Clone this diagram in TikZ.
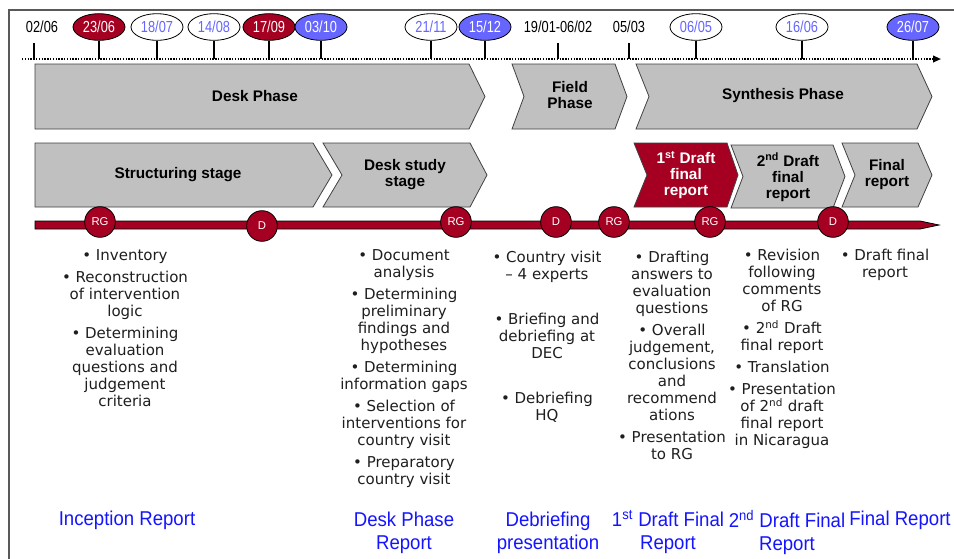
\documentclass[tikz,border=0pt]{standalone}
\usepackage{fontspec}
\setmainfont{DejaVu Sans}
\newfontfamily\arialf{Liberation Sans}
\newfontfamily\narrowf[FakeStretch=0.8]{Liberation Sans}
\newfontfamily\bluef[FakeStretch=0.93]{Liberation Sans}
\usetikzlibrary{arrows.meta,shapes.geometric}
\definecolor{dred}{RGB}{165,0,33}
\definecolor{lblue}{RGB}{102,102,255}
\definecolor{boxgray}{RGB}{192,192,192}
\definecolor{repblue}{RGB}{20,20,255}
\definecolor{bultext}{RGB}{30,30,30}
\newcommand\chevpath[7]{%
  \draw[#1] (#2,#4) -- ({#3-#7},#4) -- (#3,{(#4+#5)/2}) -- ({#3-#7},#5) -- (#2,#5) -- ({#2+#6},{(#4+#5)/2}) -- cycle;}
\tikzset{
  frame/.style={draw=black!65,line width=1.1pt},
  dotline/.style={line width=1.3pt,dash pattern=on 1.1pt off 1pt,-{Triangle[length=6pt,width=5pt]}},
  tick/.style={line width=1.6pt},
  datebase/.style={ellipse,draw=black,line width=0.6pt,minimum width=39pt,minimum height=20pt,inner sep=0pt,font=\narrowf\fontsize{12}{13}\selectfont},
  datered/.style={datebase,fill=dred,text=white},
  dateblue/.style={datebase,fill=lblue,text=white},
  datewhite/.style={datebase,fill=white,text=lblue},
  dateplain/.style={rectangle,minimum height=20pt,inner sep=0pt,text=black,font=\narrowf\fontsize{12}{13}\selectfont},
  chev/.style={fill=boxgray,draw=black!75,line width=0.6pt,line join=miter},
  chevred/.style={fill=dred,draw=black!75,line width=0.6pt,line join=miter},
  head/.style={align=center,inner sep=0pt,text=black,font=\arialf\bfseries\fontsize{11.5}{12}\selectfont},
  bar/.style={fill=dred,draw=black,line width=0.6pt},
  milestone/.style={circle,fill=dred,draw=black,line width=0.6pt,minimum size=23pt,inner sep=0pt,text=white,font=\arialf\fontsize{8.5}{9}\selectfont},
  bullets/.style={align=center,anchor=north,inner sep=0pt,text=bultext,font=\fontsize{11.25}{12.75}\selectfont},
  report/.style={align=center,inner sep=0pt,text=repblue,font=\bluef\fontsize{15}{17.25}\selectfont}
}
\begin{document}
\begin{tikzpicture}[x=0.75pt,y=-0.75pt]
\useasboundingbox (0,0) rectangle (954,558);
% frame
\draw[frame] (9,560) -- (9,10) -- (956,10);
% top timeline
\coordinate (tlS) at (22,59);
\coordinate (tlE) at (941,59);
\draw[dotline] (tlS) -- (tlE);
% dates
\node[dateplain] (d0206) at (42,27) {02/06};
\node[datered]   (d2306) at (99,27) {23/06};
\node[datewhite] (d1807) at (157,27) {18/07};
\node[datewhite] (d1408) at (214,27) {14/08};
\node[datered]   (d1709) at (269,27) {17/09};
\node[dateblue]  (d0310) at (321,27) {03/10};
\node[datewhite] (d2111) at (431,27) {21/11};
\node[dateblue]  (d1512) at (485,27) {15/12};
\node[dateplain] (d1901) at (558,27) {19/01-06/02};
\node[dateplain] (d0503) at (629,27) {05/03};
\node[datewhite] (d0605) at (696,27) {06/05};
\node[datewhite] (d1606) at (802,27) {16/06};
\node[dateblue]  (d2607) at (913,27) {26/07};
\draw[tick] ([xshift=-6pt,yshift=-2pt]d0206.south) -- ([xshift=-6pt]d0206.south |- tlS);
\foreach \n in {d2306,d1807,d1408,d1709,d0310,d2111,d1512,d0605,d1606,d2607}
  \draw[tick] (\n.south) -- (\n.south |- tlS);
\draw[tick] ([yshift=-2pt]d1901.south) -- (d1901.south |- tlS);
\draw[tick] ([yshift=-2pt]d0503.south) -- (d0503.south |- tlS);
% phases
\chevpath{chev}{35}{485}{64}{129}{0}{16}
\chevpath{chev}{512}{627}{64}{129}{12}{12}
\chevpath{chev}{636}{932}{64}{129}{13}{15}
\node[head] (pdesk) at (255,96) {Desk Phase};
\node[head] (pfield) at (570,95) {Field\\Phase};
\node[head] (psynth) at (783,96) {Synthesis Phase};
% stages
\chevpath{chev}{35}{332}{143}{207}{0}{19}
\chevpath{chev}{323}{487}{143}{207}{19}{17}
\chevpath{chevred}{634}{738}{143}{207}{13}{11}
\chevpath{chev}{731}{845}{145}{208}{12}{12}
\chevpath{chev}{842}{932}{143}{207}{13}{14}
\node[head] (sstruct) at (178,175) {Structuring stage};
\node[head] (sdesk) at (405,175) {Desk study\\stage};
\node[head,text=white] (sfirst) at (686,175) {1\textsuperscript{st} Draft\\final\\report};
\node[head] (ssecond) at (788,177) {2\textsuperscript{nd} Draft\\final\\report};
\node[head] (sfinal) at (887,175) {Final\\report};
% red bar
\draw[bar] (35,221) -- (920,221) -- (939,225) -- (920,229) -- (35,229) -- cycle;
\node[milestone] (m1) at (100,222) {RG};
\node[milestone] (m2) at (262,226) {D};
\node[milestone] (m3) at (456,222) {RG};
\node[milestone] (m4) at (556,222) {D};
\node[milestone] (m5) at (614,222) {RG};
\node[milestone] (m6) at (710,222) {RG};
\node[milestone] (m7) at (833,222) {D};
% bullet columns
\node[bullets] (b1) at (125,249.5) {• Inventory\\[3.5pt]
  • Reconstruction\\of intervention\\logic\\[3.5pt]
  • Determining\\evaluation\\questions and\\judgement\\criteria};
\node[bullets] (b2) at (404,249.5) {• Document\\analysis\\[3.5pt]
  • Determining\\preliminary\\findings and\\hypotheses\\[3.5pt]
  • Determining\\information gaps\\[4pt]
  • Selection of\\interventions for\\country visit\\[4pt]
  • Preparatory\\country visit};
\node[bullets] (b3) at (547,251) {• Country visit\\– 4 experts\\[20.5pt]
  • Briefing and\\debriefing at\\DEC\\[21pt]
  • Debriefing\\HQ};
\node[bullets] (b4) at (672,251) {• Drafting\\answers to\\evaluation\\questions\\[3.5pt]
  • Overall\\judgement,\\conclusions\\and\\recommend\\ations\\[4pt]
  • Presentation\\to RG};
\node[bullets] (b5) at (782,249) {• Revision\\following\\comments\\of RG\\[3.5pt]
  • 2\textsuperscript{nd} Draft\\final report\\[3.5pt]
  • Translation\\[4pt]
  • Presentation\\of 2\textsuperscript{nd} draft\\final report\\in Nicaragua};
\node[bullets] (b6) at (885,249) {• Draft final\\report};
% reports
\node[report] (r1) at (127,520) {Inception Report};
\node[report] (r2) at (404,532.5) {Desk Phase\\Report};
\node[report] (r3) at (548,532.5) {Debriefing\\presentation};
\node[report] (r4) at (668,532.5) {1\textsuperscript{st} Draft Final\\Report};
\node[report] (r5) at (787,532.5) {2\textsuperscript{nd} Draft Final\\Report};
\node[report] (r6) at (900,520) {Final Report};
\end{tikzpicture}
\end{document}
